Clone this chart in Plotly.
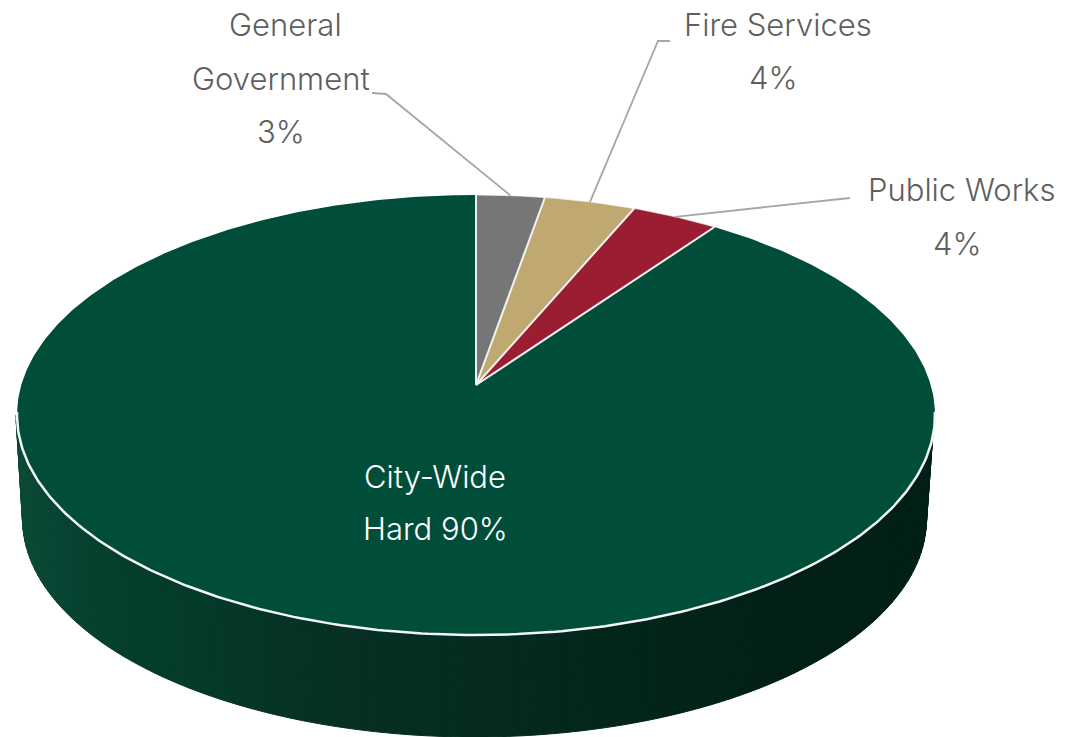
import numpy as np
import plotly.graph_objects as go

# Capital budget share by department, clockwise from twelve o'clock
categories = ["General Government", "Fire Services", "Public Works", "City-Wide Hard"]
shares = [2.75, 3.65, 3.5, 90.1]
slice_colors = ["#767676", "#BFA971", "#9A1D32", "#004E3A"]

# Wrapped label text; the percentage is appended from the share itself
label_wrap = [["General", "Government"], ["Fire Services"], ["Public Works"], ["City-Wide", "Hard"]]

# Pie geometry in page pixels
APEX_X, APEX_Y = 476.0, 385.0
TOP_Y, BOTTOM_Y = 195.0, 635.0
HALF_WIDTH = 459.0
BASE_CX, BASE_CY, BASE_RX, BASE_RY = 474.5, 519.0, 452.0, 218.0

# Perspective tilt of the disc: the far edge is foreshortened
back, front = APEX_Y - TOP_Y, BOTTOM_Y - APEX_Y
k = (front - back) / (front + back)
scale_y = back * (1 + k)
scale_x = HALF_WIDTH * np.sqrt(1 - k * k)


def on_disc(theta, r=1.0):
    """Project a clockwise angle (radians from north) on the disc to the page."""
    u, v = r * np.sin(theta), r * np.cos(theta)
    w = 1 + k * v
    return APEX_X + scale_x * u / w, APEX_Y - scale_y * v / w


# Side wall shade across the page, left to right
wall_x = [16, 100, 200, 300, 470, 640, 800, 934]
wall_rgb = [(11, 74, 55), (5, 63, 46), (4, 58, 42), (5, 50, 36), (5, 43, 32), (3, 36, 26), (2, 31, 22), (2, 31, 22)]

fig = go.Figure()


def polygon(xs, ys, fill, line=None, width=0):
    fig.add_trace(go.Scatter(
        x=xs, y=ys, mode="lines", fill="toself", fillcolor=fill,
        line=dict(color=line or fill, width=width),
        hoverinfo="skip", showlegend=False,
    ))


# Side wall as narrow shaded strips between the rim and the base
rim_cy = (on_disc(np.pi)[1] + TOP_Y) / 2
rim_ry = (on_disc(np.pi)[1] - TOP_Y) / 2
steps = np.linspace(0, np.pi, 121)
for a0, a1 in zip(steps[:-1], steps[1:]):
    tx = APEX_X - 1 + HALF_WIDTH * np.cos([a0, a1])
    ty = rim_cy + rim_ry * np.sin([a0, a1])
    bx = BASE_CX + BASE_RX * np.cos([a0, a1])
    by = BASE_CY + BASE_RY * np.sin([a0, a1])
    mid = (tx.mean() + bx.mean()) / 2
    rgb = [np.interp(mid, wall_x, [c[i] for c in wall_rgb]) for i in range(3)]
    color = "rgb({:.0f},{:.0f},{:.0f})".format(*rgb)
    polygon([tx[0], tx[1], bx[1], bx[0], tx[0]], [ty[0], ty[1], by[1], by[0], ty[0]], color, width=1)

# Top face slices
fractions = np.array(shares) / sum(shares)
edges = np.concatenate([[0], np.cumsum(fractions)]) * 2 * np.pi
for start, end, color in zip(edges[:-1], edges[1:], slice_colors):
    angles = np.linspace(start, end, max(8, int((end - start) * 90)))
    px, py = on_disc(angles)
    polygon([APEX_X, *px, APEX_X], [APEX_Y, *py, APEX_Y], color)

# Thin white separators between slices and along the front rim
for edge in edges[:-1]:
    ex, ey = on_disc(edge)
    fig.add_trace(go.Scatter(x=[APEX_X, ex], y=[APEX_Y, ey], mode="lines",
                             line=dict(color="#F2F2F2", width=2),
                             hoverinfo="skip", showlegend=False))
rim_angles = np.linspace(np.radians(97), np.radians(263), 240)
rx_, ry_ = on_disc(rim_angles)
fig.add_trace(go.Scatter(x=rx_, y=ry_, mode="lines", line=dict(color="#F4F6F4", width=2.5),
                         hoverinfo="skip", showlegend=False))
top_angles = np.linspace(0, edges[3], 60)
tx_, ty_ = on_disc(top_angles)
fig.add_trace(go.Scatter(x=tx_, y=ty_, mode="lines", line=dict(color="rgba(255,255,255,0.6)", width=1),
                         hoverinfo="skip", showlegend=False))

# Leader lines run from each small slice's rim midpoint to its label
leader_elbows = [[(386, 94), (372, 93)], [(658, 41), (670, 41)], [(840, 199), (850, 198)]]
for i, elbow in enumerate(leader_elbows):
    ax, ay = on_disc((edges[i] + edges[i + 1]) / 2)
    fig.add_trace(go.Scatter(x=[ax] + [p[0] for p in elbow], y=[ay] + [p[1] for p in elbow],
                             mode="lines", line=dict(color="#A6A6A6", width=1.8),
                             hoverinfo="skip", showlegend=False))

# Labels, one annotation per line for the wide line spacing
FONT = "Inter"
label_lines = [
    label_wrap[0] + [f"{round(shares[0])}%"],
    label_wrap[1] + [f"{round(shares[1])}%"],
    label_wrap[2] + [f"{round(shares[2])}%"],
    [label_wrap[3][0], f"{label_wrap[3][1]} {round(shares[3])}%"],
]
line_anchor = [
    [(285, 24), (281, 78), (281, 131)],
    [(778, 24), (773, 77)],
    [(962, 189), (957, 243)],
    [(435, 476), (435, 528)],
]
text_color = ["#5F5F5F", "#5F5F5F", "#5F5F5F", "#FFFFFF"]
for lines, anchors, color in zip(label_lines, line_anchor, text_color):
    for text, (x, y) in zip(lines, anchors):
        fig.add_annotation(x=x, y=y, text=text, showarrow=False, xanchor="center", yanchor="middle",
                           font=dict(family=FONT, size=31, color=color, weight=300))

fig.update_layout(
    width=1078, height=737,
    margin=dict(l=0, r=0, t=0, b=0),
    paper_bgcolor="white", plot_bgcolor="white",
    xaxis=dict(range=[0, 1078], visible=False, fixedrange=True),
    yaxis=dict(range=[737, 0], visible=False, fixedrange=True),
    showlegend=False,
)

fig.write_html("out.html", config={"displayModeBar": False})
